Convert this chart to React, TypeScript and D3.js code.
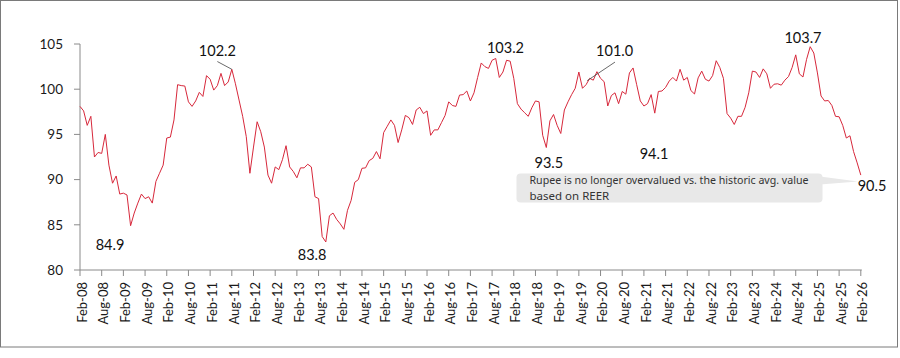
import React from "react";
import * as d3 from "d3";

// Monthly REER index, Feb-08 .. Feb-26
const reer: number[] = [
  98.1, 97.6, 96.0, 97.0, 92.5, 93.0, 92.9, 95.0, 91.6, 89.6, 90.4, 88.4,
  88.5, 88.3, 84.9, 86.3, 87.4, 88.4, 87.9, 88.1, 87.4, 89.8, 90.7, 91.6,
  94.6, 94.7, 96.6, 100.5, 100.4, 100.35, 98.6, 98.1, 98.7, 99.65, 99.2, 101.5,
  101.1, 99.9, 100.4, 101.75, 100.4, 100.8, 102.2, 100.6, 98.8, 97.0, 94.75, 90.7,
  93.6, 96.4, 95.3, 93.6, 90.5, 89.6, 91.4, 91.1, 92.2, 93.75, 91.4, 90.9,
  90.2, 91.3, 91.3, 91.7, 91.4, 88.1, 87.9, 83.7, 83.1, 86.0, 86.3, 85.6,
  85.1, 84.5, 86.6, 87.7, 89.7, 90.0, 91.25, 91.3, 92.1, 92.35, 93.1, 92.3,
  95.2, 95.9, 96.6, 96.0, 94.1, 95.5, 97.1, 96.85, 96.1, 97.7, 98.0, 97.3,
  97.6, 94.9, 95.5, 95.5, 96.3, 97.1, 98.6, 98.2, 98.1, 99.35, 99.4, 99.8,
  98.7, 99.6, 101.3, 102.9, 102.5, 102.3, 103.2, 103.4, 101.3, 101.9, 103.2, 103.1,
  101.2, 98.4, 97.8, 97.4, 97.0, 97.95, 98.7, 98.6, 94.9, 93.55, 96.5, 97.2,
  96.0, 95.1, 97.7, 98.6, 99.4, 100.1, 101.9, 100.1, 100.5, 101.2, 101.0, 101.94,
  101.2, 100.83, 98.14, 99.3, 99.6, 98.4, 99.75, 99.45, 101.8, 102.35, 100.5, 98.7,
  98.14, 98.4, 99.4, 97.35, 99.75, 99.8, 100.2, 100.9, 101.3, 100.9, 102.2, 101.0,
  101.3, 99.85, 99.47, 101.25, 102.0, 101.1, 100.9, 101.5, 103.15, 102.4, 101.2, 97.3,
  96.8, 96.1, 97.0, 97.0, 98.0, 99.6, 102.0, 101.9, 101.3, 102.25, 101.7, 100.1,
  100.55, 100.6, 100.45, 101.0, 101.4, 102.4, 103.8, 101.7, 101.35, 103.3, 104.7, 104.0,
  101.8, 99.25, 98.7, 98.75, 98.2, 97.0, 96.95, 96.0, 94.6, 94.85, 93.1, 91.85,
  90.5,
];

const xTickLabels: string[] = [
  "Feb-08", "Aug-08", "Feb-09", "Aug-09", "Feb-10", "Aug-10", "Feb-11", "Aug-11",
  "Feb-12", "Aug-12", "Feb-13", "Aug-13", "Feb-14", "Aug-14", "Feb-15", "Aug-15",
  "Feb-16", "Aug-16", "Feb-17", "Aug-17", "Feb-18", "Aug-18", "Feb-19", "Aug-19",
  "Feb-20", "Aug-20", "Feb-21", "Aug-21", "Feb-22", "Aug-22", "Feb-23", "Aug-23",
  "Feb-24", "Aug-24", "Feb-25", "Aug-25", "Feb-26",
];
const yTicks: number[] = [80, 85, 90, 95, 100, 105];

const valueLabels: string[] = ["84.9", "102.2", "83.8", "103.2", "93.5", "101.0", "94.1", "103.7", "90.5"];
const noteLines: string[] = [
  "Rupee is no longer overvalued vs. the historic avg. value",
  "based on REER",
];

// layout (month index / value space) for the labels
const labelPos: [number, number][] = [
  [8.3, 82.2], [38.0, 103.67], [64.2, 81.1], [117.7, 104.04], [129.7, 91.3],
  [147.9, 103.7], [158.8, 92.28], [200.0, 105.14], [219.1, 88.74],
];

const W = 900;
const H = 358;
const LEFT = 80;
const RIGHT = 860.8;
const TOP = 44;
const BOTTOM = 270;

export default function App() {
  const x = d3.scaleLinear().domain([0, reer.length - 1]).range([LEFT, RIGHT]);
  const y = d3.scaleLinear().domain([80, 105]).range([BOTTOM, TOP]);
  const line = d3
    .line<number>()
    .x((_, i) => x(i))
    .y((d) => y(d));

  const axisColor = "#8a8a8a";
  const font = "Lato, 'Open Sans', sans-serif";

  const peakIdx = 42;
  const idx101 = 140.3;

  return (
    <div style={{ position: "absolute", left: 0, top: 0 }}>
      <svg width={W} height={H} style={{ display: "block" }}>
        <rect x={0} y={0} width={W} height={H} fill="#fff" />
        <rect x={0.5} y={0.5} width={897} height={346.5} fill="none" stroke="#7a7a7a" strokeWidth={1} />

        {/* y axis */}
        <line x1={LEFT} x2={LEFT} y1={y(105)} y2={y(80)} stroke={axisColor} strokeWidth={1} />
        {yTicks.map((t) => (
          <g key={t}>
            <line x1={LEFT - 6} x2={LEFT} y1={y(t)} y2={y(t)} stroke={axisColor} strokeWidth={1} />
            <text x={63} y={y(t)} dy="0.36em" textAnchor="end" fontFamily={font} fontSize={13.5} fill="#1a1a1a">
              {t}
            </text>
          </g>
        ))}

        {/* x axis */}
        <line x1={LEFT} x2={RIGHT + 1} y1={BOTTOM} y2={BOTTOM} stroke={axisColor} strokeWidth={1} />
        {xTickLabels.map((lab, k) => {
          const xi = x(k * 6);
          return (
            <g key={lab}>
              <line x1={xi} x2={xi} y1={BOTTOM} y2={BOTTOM + 6} stroke={axisColor} strokeWidth={1} />
              <text
                transform={`translate(${xi + 2},${BOTTOM + 12}) rotate(-90)`}
                dy="0.36em"
                textAnchor="end"
                fontFamily={font}
                fontSize={13}
                fill="#1a1a1a"
              >
                {lab}
              </text>
            </g>
          );
        })}

        {/* series */}
        <path d={line(reer) ?? ""} fill="none" stroke="#d7283b" strokeWidth={1} strokeLinejoin="round" />

        {/* leader lines */}
        <line x1={x(38.0)} y1={y(103.06)} x2={x(peakIdx)} y2={y(reer[peakIdx])} stroke="#444" strokeWidth={0.8} />
        <line x1={x(148.0)} y1={y(103.0)} x2={x(idx101)} y2={y(100.94)} stroke="#444" strokeWidth={0.8} />

        {/* value labels */}
        {valueLabels.map((lab, k) => (
          <text
            key={lab}
            x={x(labelPos[k][0])}
            y={y(labelPos[k][1])}
            textAnchor="middle"
            fontFamily={font}
            fontSize={14.5}
            fill="#111"
          >
            {lab}
          </text>
        ))}

        {/* note box with tail */}
        <polygon points="820,176.5 820,184.5 858,181.5" fill="#e8e8e8" />
        <rect x={516.5} y={173.5} width={306} height={29} rx={4} ry={4} fill="#e8e8e8" />
        {noteLines.map((t, k) => (
          <text
            key={t}
            x={529.5}
            y={184 + k * 15.5}
            fontFamily="'Noto Sans', 'Open Sans', sans-serif"
            fontSize={11.5}
            fill="#333"
            textLength={k === 0 ? 279 : undefined}
            lengthAdjust="spacingAndGlyphs"
          >
            {t}
          </text>
        ))}
      </svg>
    </div>
  );
}
